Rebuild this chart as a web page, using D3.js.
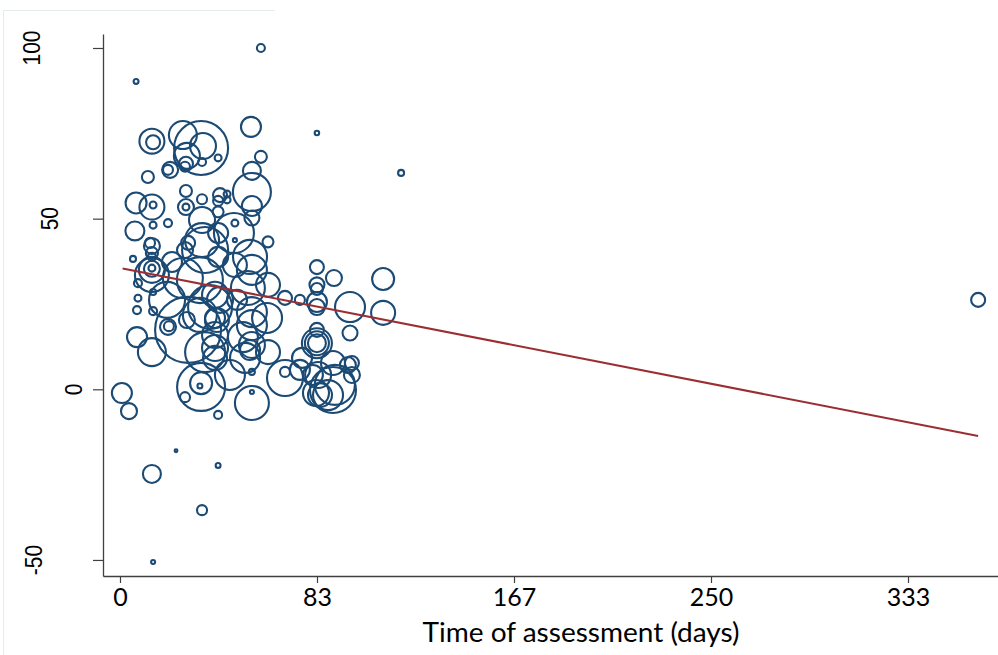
<!DOCTYPE html>
<html><head><meta charset="utf-8">
<script src="https://cdn.jsdelivr.net/npm/d3@7"></script>
<style>body{margin:0;background:#fff}svg{display:block}</style>
</head><body>
<svg id="c" width="998" height="655"></svg>
<script>
// ---- data ----
const days = [
6.8,59.6,83.3,118.9,363,13.5,14.0,26.6,34.3,35.1,28.3,27.9,27.5,34.7,41.5,21.2,20.3,11.8,55.4,59.6,
55.8,55.8,55.8,55.8,27.9,62.6,6.8,13.5,14.0,27.9,27.9,34.7,42.3,45.3,45.3,41.5,41.5,6.3,14.0,20.3,
48.6,48.6,48.2,
12.7,13.5,13.5,13.5,5.5,13.5,13.5,13.5,13.5,7.6,7.6,7.2,14.0,14.0,19.9,26.6,20.3,20.7,28.3,7.2,
13.5,28.8,33.8,40.2,40.2,40.2,40.2,40.2,36.0,34.3,34.3,33.8,27.5,41.5,33.8,38.1,42.3,41.0,34.7,41.5,
34.7,36.0,41.5,27.5,22.0,55.0,55.8,54.1,62.2,55.8,55.8,55.8,52.9,55.8,55.8,55.8,69.8,69.8,77.0,83.8,
90.9,88.0,96.4,98.1,62.6,62.6,69.8,76.1,83.3,90.5,83.3,83.3,83.3,83.3,83.3,83.3,83.3,97.3,97.3,111.3,
111.3,52.0,55.0,46.5,82.9,90.1,98.1,81.6,90.1,84.6,76.1,83.3,28.8,48.6,49.5,
0.8,3.8,23.7,13.5,41.5,34.7,14.0
];
const scores = [
90.2,100.0,75.1,63.4,26.2,72.7,72.4,74.5,70.7,71.3,68.4,66.1,65.2,66.6,67.8,64.3,64.3,62.2,76.9,68.1,
64.0,57.8,53.7,50.2,58.1,43.2,54.6,53.4,54.0,53.4,53.4,55.7,56.9,57.2,55.5,55.2,52.0,46.4,48.1,48.7,
43.7,48.7,45.8,
42.9,42.0,39.9,38.8,38.2,35.0,35.3,35.5,33.5,31.1,26.7,23.2,22.9,28.5,26.2,32.6,18.3,18.5,20.3,15.3,
10.9,17.4,21.8,27.7,20.9,15.9,12.1,9.2,10.9,0.7,1.8,1.0,-2.3,-7.5,32.0,24.1,26.2,20.3,49.6,45.8,
43.7,40.8,38.8,40.8,37.3,38.8,35.0,29.7,20.9,18.8,22.6,13.0,9.2,5.1,-0.8,-4.0,5.1,3.3,9.2,4.2,
1.3,-1.7,7.1,4.2,10.9,30.6,26.8,26.2,35.8,32.6,30.6,29.4,25.6,24.1,13.5,13.5,13.5,24.1,16.5,32.3,
22.4,15.3,11.5,4.2,-1.1,7.7,7.7,4.2,-0.2,-1.7,5.7,17.4,42.9,36.4,26.2,
-1.1,-6.4,-18.0,-24.8,-22.3,-35.4,-50.6
];
const weights = [
6,16,5,9,49,156,49,196,729,169,169,49,25,16,12,64,25,36,100,36,
81,361,100,56,36,30,110,156,12,64,12,25,49,12,12,25,30,90,12,16,
4,12,400,
25,64,36,16,9,169,64,12,289,16,12,16,16,9,324,400,64,25,64,100,
196,1089,289,169,100,169,169,144,400,576,121,6,25,16,529,484,169,144,169,100,
289,529,100,64,100,289,225,289,225,225,225,169,225,9,4,289,25,324,100,169,
400,225,64,64,144,144,49,25,49,64,56,36,100,64,225,144,81,225,56,121,
144,225,100,225,169,144,49,100,529,144,100,49,49,144,100,
100,64,2,81,6,25,4
];
const fitDays = [1.1, 363];
const fitScores = [35.4, -13.7];
const xTickValues = [0, 83.33, 166.67, 250, 333.33];
const xTickLabels = ["0", "83", "167", "250", "333"];
const yTickValues = [-50, 0, 50, 100];
const xTitle = "Time of assessment (days)";

// ---- drawing ----
const svg = d3.select("#c");
const x = d3.scaleLinear().domain([-7.19, 371.4]).range([103, 998]);
const y = d3.scaleLinear().domain([-54.7, 104.1]).range([576, 34]);
const r = d3.scaleSqrt().domain([0, 1000]).range([0, 31.62]);

// faint frame
svg.append("path").attr("d","M3.5,655 V10.5 H275").attr("fill","none")
  .attr("stroke","#e4ecec").attr("stroke-width",1);

const pts = days.map((d,i)=>({d, s:scores[i], w:weights[i]}));
svg.append("g").selectAll("circle").data(pts).join("circle")
  .attr("cx", p=>x(p.d)).attr("cy", p=>y(p.s)).attr("r", p=>r(p.w))
  .attr("fill","none").attr("stroke","#1b4a74").attr("stroke-width",2.1);

svg.append("path")
  .datum(fitDays.map((d,i)=>[d, fitScores[i]]))
  .attr("d", d3.line().x(p=>x(p[0])).y(p=>y(p[1])))
  .attr("fill","none").attr("stroke","#9b2e32").attr("stroke-width",2);

// y axis
const gy = svg.append("g").attr("transform","translate(103,0)")
  .call(d3.axisLeft(y).tickValues(yTickValues).tickSize(10).tickSizeOuter(0).tickFormat(""));
gy.select(".domain").attr("stroke","#404040").attr("stroke-width",1.3);
gy.selectAll(".tick line").attr("stroke","#404040").attr("stroke-width",1.2);
const yLabelBase = {"100":40, "50":58, "0":82, "-50":42};
svg.append("g").selectAll("text").data(yTickValues).join("text")
  .attr("transform", v=>`translate(${yLabelBase[String(v)]},${y(v)}) rotate(-90) scale(1,1.18)`)
  .attr("text-anchor","middle")
  .attr("font-family","'Liberation Sans', Arial, sans-serif").attr("font-size",21)
  .attr("fill","#000").text(v=>String(v));

// x axis
const gx = svg.append("g").attr("transform","translate(0,576)")
  .call(d3.axisBottom(x).tickValues(xTickValues).tickSize(7).tickSizeOuter(0)
    .tickFormat((v,i)=>xTickLabels[i]));
gx.select(".domain").attr("stroke","#404040").attr("stroke-width",1.3);
gx.selectAll(".tick line").attr("stroke","#404040").attr("stroke-width",1.2);
gx.selectAll(".tick text").attr("font-family","Lato, 'Open Sans', sans-serif")
  .attr("font-size",25).attr("fill","#000").attr("y",12).attr("dy","0.71em");

svg.append("text").attr("x",581).attr("y",642).attr("text-anchor","middle")
  .attr("font-family","Lato, 'Open Sans', sans-serif").attr("font-size",26)
  .attr("textLength",317).attr("lengthAdjust","spacingAndGlyphs")
  .attr("fill","#000").text(xTitle);
</script>
</body></html>
